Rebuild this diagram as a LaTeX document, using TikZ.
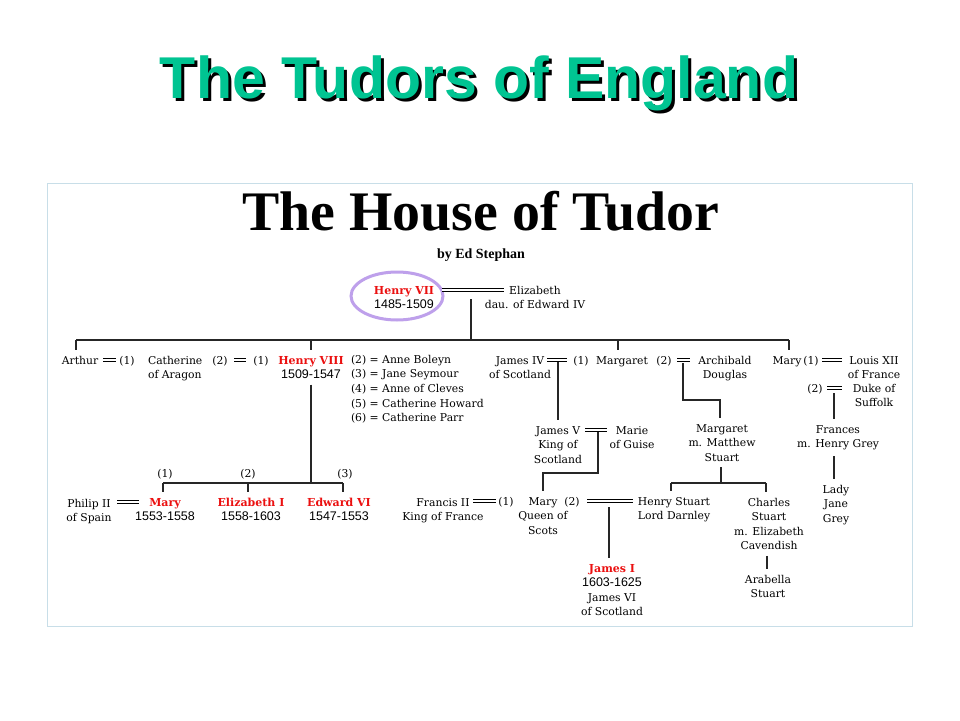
\documentclass[tikz,border=0pt]{standalone}
\usepackage{fontspec}
\usepackage{graphicx}
\setmainfont{DejaVu Serif}
\newfontfamily\titlefont{Liberation Sans}
\newfontfamily\yrsfont{Liberation Sans}
\newfontfamily\housefont{Liberation Serif}
\usetikzlibrary{calc}
\definecolor{tgreen}{RGB}{0,196,146}
\definecolor{tred}{RGB}{235,16,16}
\definecolor{ovalcol}{RGB}{190,160,235}
\definecolor{framecol}{RGB}{200,222,232}
\newcommand{\fs}{\fontsize{10.8}{14.6}\selectfont}
\newcommand{\redname}[1]{{\color{tred}\bfseries\fontsize{11}{14.6}\selectfont #1}}
\newcommand{\yrs}[1]{{\yrsfont\fontsize{12.5}{14.6}\selectfont #1}}
\newcommand{\titletext}{The Tudors of England}
\tikzset{
  every node/.style={inner sep=0pt, outer xsep=2pt, outer ysep=6pt, font=\fs},
  person/.style={align=center, anchor=base},
  lperson/.style={align=left, anchor=base west},
  lab/.style={anchor=base},
  link/.style={line width=1.2pt, black!85},
  marr/.style={double=white, double distance=1.6pt, line width=1.1pt, black},
}
\begin{document}
\begin{tikzpicture}[x=1pt,y=-1pt]
\useasboundingbox (0,0) rectangle (960,720);
\fill[white] (0,0) rectangle (960,720);
% title with drop shadow
\node[anchor=base] (title) at (479,98) {\titlefont\bfseries\fontsize{59}{61}\selectfont
  \rlap{\kern3pt\raisebox{-3pt}{\color{black}\titletext}}{\color{tgreen}\titletext}};
% frame
\draw[framecol, line width=1pt] (47,183) rectangle (912,626);
\node[anchor=base] (house) at (481,230) {\resizebox{477pt}{!}{\housefont\bfseries The House of Tudor}};
\node[anchor=base] (byline) at (481,258) {\resizebox{88pt}{!}{\housefont\bfseries by Ed Stephan}};
% highlight
\draw[ovalcol, line width=3pt] (397,296) ellipse [x radius=46, y radius=24];
% persons (anchor base = baseline of the last line)
\node[person] (h7) at (404,308.6) {\redname{Henry VII}\\\yrs{1485-1509}};
\node[person] (eliz7) at (535,308.6) {Elizabeth\\dau. of Edward IV};
\node[person] (arthur) at (80,364) {Arthur};
\node[lab] (l1a) at (127,364) {(1)};
\node[lperson] (cath) at (146,378.6) {Catherine\\of Aragon};
\node[lab] (l2a) at (220,364) {(2)};
\node[lab] (l1b) at (261,364) {(1)};
\node[person] (h8) at (311,378.6) {\redname{Henry VIII}\\\yrs{1509-1547}};
\node[lperson] (wives) at (349,421.6) {(2) = Anne Boleyn\\(3) = Jane Seymour\\(4) = Anne of Cleves\\(5) = Catherine Howard\\(6) = Catherine Parr};
\node[person] (james4) at (520,378.6) {James IV\\of Scotland};
\node[lab] (l1c) at (581,364) {(1)};
\node[person] (marg) at (622,364) {Margaret};
\node[lab] (l2b) at (664,364) {(2)};
\node[person] (archie) at (725,378.6) {Archibald\\Douglas};
\node[person] (maryt) at (787,364) {Mary};
\node[lab] (l1d) at (811,364) {(1)};
\node[person] (louis) at (874,378.6) {Louis XII\\of France};
\node[lab] (l2c) at (815,392) {(2)};
\node[person] (suffolk) at (874,406.6) {Duke of\\Suffolk};
\node[person] (james5) at (558,463.2) {James V\\King of\\Scotland};
\node[person] (marie) at (632,448.6) {Marie\\of Guise};
\node[person] (marg2) at (722,461.2) {Margaret\\m. Matthew\\Stuart};
\node[person] (frances) at (838,447.6) {Frances\\m. Henry Grey};
\node[lab] (c1) at (165,477) {(1)};
\node[lab] (c2) at (248,477) {(2)};
\node[lab] (c3) at (345,477) {(3)};
\node[person] (philip) at (89,521.6) {Philip II\\of Spain};
\node[person] (mary1) at (165,520.6) {\redname{Mary}\\\yrs{1553-1558}};
\node[person] (eliz1) at (251,520.6) {\redname{Elizabeth I}\\\yrs{1558-1603}};
\node[person] (edw6) at (339,520.6) {\redname{Edward VI}\\\yrs{1547-1553}};
\node[person] (francis) at (443,520.6) {Francis II\\King of France};
\node[lab] (l1e) at (506,505) {(1)};
\node[person] (maryq) at (543,534.2) {Mary\\Queen of\\Scots};
\node[lab] (l2d) at (572,505) {(2)};
\node[person] (darnley) at (674,519.6) {Henry Stuart\\Lord Darnley};
\node[person] (charles) at (769,549.8) {Charles\\Stuart\\m. Elizabeth\\Cavendish};
\node[person] (ladyj) at (836,522.2) {Lady\\Jane\\Grey};
\node[person] (james1) at (612,615.8) {\redname{James I}\\\yrs{1603-1625}\\James VI\\of Scotland};
\node[person] (arab) at (768,597.6) {Arabella\\Stuart};
% marriages
\coordinate (m0a) at (442,290); \coordinate (m0b) at (504,290);
\coordinate (m1a) at (103,360); \coordinate (m1b) at (116,360);
\coordinate (m2a) at (234,360); \coordinate (m2b) at (246,360);
\coordinate (m3a) at (547,360); \coordinate (m3b) at (567,360);
\coordinate (m4a) at (677,360); \coordinate (m4b) at (690,360);
\coordinate (m5a) at (822,360); \coordinate (m5b) at (842,360);
\coordinate (m6a) at (827,388); \coordinate (m6b) at (842,388);
\coordinate (m7a) at (585,430); \coordinate (m7b) at (607,430);
\coordinate (m8a) at (117,502); \coordinate (m8b) at (139,502);
\coordinate (m9a) at (473,501); \coordinate (m9b) at (496,501);
\coordinate (m10a) at (587,501); \coordinate (m10b) at (633,501);
\foreach \m in {m0,m1,m2,m3,m4,m5,m6,m7,m8,m9,m10}{\draw[marr] (\m a) -- (\m b);}
% descent lines
\coordinate (h7v) at (471,299);
\coordinate (barL) at (76,340); \coordinate (barR) at (789,340);
\coordinate (bH8) at (311,340); \coordinate (bMg) at (618,340);
\draw[link] (h7v) -- (h7v |- barL);
\draw[link] (barL) -- (barR);
\draw[link] (barL) -- (barL |- arthur.north);
\draw[link] (bH8) -- (h8.north);
\draw[link] (bMg) -- (bMg |- marg.north);
\draw[link] (barR) -- (barR |- maryt.north);
\coordinate (kb) at (311,483); \coordinate (kL) at (163,483);
\coordinate (kM) at (248,483); \coordinate (kR) at (343,483);
\draw[link] (h8.south) -- (kb);
\draw[link] (kL) -- (kR);
\draw[link] (kL) -- (kL |- mary1.north);
\draw[link] (kM) -- (kM |- eliz1.north);
\draw[link] (kR) -- (kR |- edw6.north);
\coordinate (j4v) at (558,362);
\draw[link] (j4v) -- (j4v |- james5.north);
\coordinate (mgv) at (683,363); \coordinate (mgk) at (720,400);
\draw[link] (mgv) |- (mgk) -- (mgk |- marg2.north);
\coordinate (mrv) at (834,393);
\draw[link] (mrv) -- (mrv |- frances.north);
\coordinate (j5v) at (598,432); \coordinate (j5k) at (543,473);
\draw[link] (j5v) |- (j5k) -- (j5k |- maryq.north);
\coordinate (m2v) at (721,483); \coordinate (m2L) at (671,483); \coordinate (m2R) at (766,483);
\draw[link] (m2v |- marg2.south) -- (m2v);
\draw[link] (m2L) -- (m2R);
\draw[link] (m2L) -- (m2L |- darnley.north);
\draw[link] (m2R) -- (m2R |- charles.north);
\draw[link] (mrv |- frances.south) -- (mrv |- ladyj.north);
\coordinate (chv) at (767,550);
\draw[link] (chv |- charles.south) -- (chv |- arab.north);
\coordinate (j1v) at (609,507);
\draw[link] (j1v) -- (j1v |- james1.north);
\end{tikzpicture}
\end{document}
